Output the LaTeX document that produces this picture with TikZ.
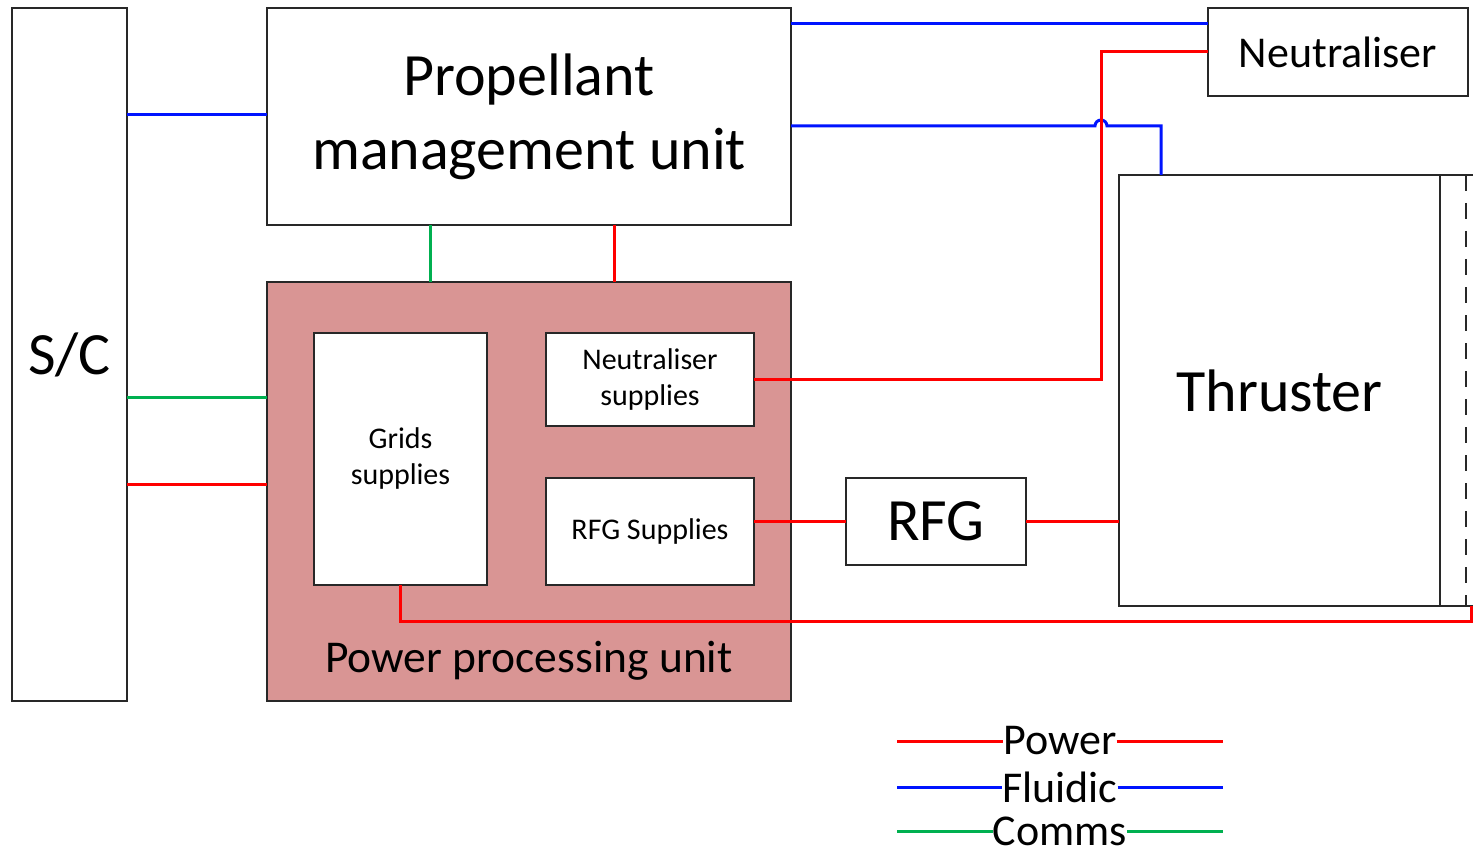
\documentclass[tikz,border=0pt]{standalone}
\usepackage{fontspec}
\setmainfont{Carlito}
\definecolor{ppufill}{RGB}{217,149,148}
\definecolor{pwr}{RGB}{255,0,0}
\definecolor{fld}{RGB}{0,20,255}
\definecolor{cms}{RGB}{0,176,80}
\definecolor{edge}{RGB}{40,40,40}
\tikzset{
  box/.style={draw=edge, line width=1.6pt, fill=white, inner sep=0pt, outer sep=0pt, align=center},
  power/.style={draw=pwr, line width=3pt},
  fluid/.style={draw=fld, line width=3pt},
  comms/.style={draw=cms, line width=3pt},
  big/.style={font=\fontsize{60}{74}\selectfont},
  mid/.style={font=\fontsize{44}{52}\selectfont},
  small/.style={font=\fontsize{30}{36}\selectfont},
  legtext/.style={inner sep=0pt, outer sep=0pt, font=\fontsize{44}{52}\selectfont}
}
\begin{document}
\begin{tikzpicture}[x=1pt, y=-1pt]
\useasboundingbox (0,0) rectangle (1473,853);
% main blocks
\node[box, big, minimum width=115pt, minimum height=693pt] (sc) at (69.5,354.5) {S/C};
\node[box, big, minimum width=524pt, minimum height=217pt] (pmu) at (529,116.5) {Propellant\\management unit};
\node[box, fill=ppufill, minimum width=524pt, minimum height=419pt] (ppu) at (529,491.5) {};
\node[inner sep=0pt, font=\fontsize{45.5}{52}\selectfont] (ppulabel) at (529,661) {Power processing unit};
\node[box, small, minimum width=173pt, minimum height=252pt] (gs) at (400.5,459) {Grids\\supplies};
\node[box, small, minimum width=208pt, minimum height=93pt] (ns) at (650,379.5) {Neutraliser\\supplies};
\node[box, small, minimum width=208pt, minimum height=107pt] (rs) at (650,531.5) {RFG Supplies};
\node[box, big, minimum width=180pt, minimum height=87pt] (rfg) at (936,521.5) {RFG};
\node[box, mid, minimum width=260pt, minimum height=88pt] (neut) at (1338,52) {Neutraliser};
% thruster
\node[box, big, minimum width=321pt, minimum height=431pt] (thr) at (1279.5,390.5) {Thruster};
\draw[edge, line width=1.6pt] (thr.north east) -- (1476,175);
\draw[edge, line width=1.6pt] (thr.south east) -- (1476,606);
\coordinate (dtop) at (1466,175);
\coordinate (dbot) at (1466,606);
\draw[edge, line width=1.6pt, dash pattern=on 16pt off 12pt] (dtop) -- (dbot);
\coordinate (thrx) at (1471,606);
% connectors S/C
\draw[fluid] (sc.east |- 0,115) -- (pmu.west |- 0,115);
\draw[comms] (sc.east |- 0,397) -- (ppu.west |- 0,397);
\draw[power] (sc.east |- 0,484) -- (ppu.west |- 0,484);
% PMU - PPU
\draw[comms] (pmu.south -| 430,0) -- (ppu.north -| 430,0);
\draw[power] (pmu.south -| 614,0) -- (ppu.north -| 614,0);
% PMU fluidic
\draw[fluid] (pmu.east |- 0,24) -- (neut.west |- 0,24);
\coordinate (j) at (1101,0);
\coordinate (k) at (1161,0);
\draw[fluid] (pmu.east |- 0,126) -- (1095,126) arc[start angle=180, end angle=0, radius=6pt] -- (k |- 0,126) -- (k |- thr.north);
% power lines
\draw[power] (ns.east) -- (ns.east -| j) -- (neut.west -| j) -- (neut.west);
\draw[power] (rfg.west -| rs.east) -- (rfg.west);
\draw[power] (rfg.east) -- (rfg.east -| thr.west);
\draw[power] (gs.south) -- (gs.south |- 0,621) -- (thrx |- 0,621) -- (thrx);
% legend
\node[legtext] (lp) at (1060,741) {Power};
\node[legtext] (lf) at (1060,787) {Fluidic};
\node[legtext] (lc) at (1060,831) {Comms};
\coordinate (ll) at (897,0);
\coordinate (lr) at (1223,0);
\draw[power] (ll |- lp.west) -- (lp.west);
\draw[power] (lp.east) -- (lr |- lp.east);
\draw[fluid] (ll |- lf.west) -- (lf.west);
\draw[fluid] (lf.east) -- (lr |- lf.east);
\draw[comms] (ll |- lc.west) -- (lc.west);
\draw[comms] (lc.east) -- (lr |- lc.east);
\end{tikzpicture}
\end{document}
